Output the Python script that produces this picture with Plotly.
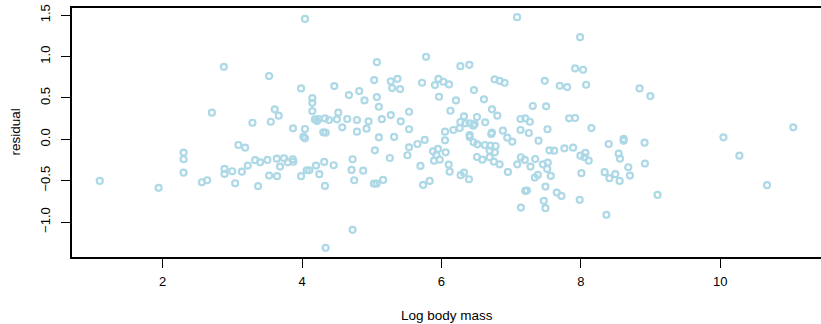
import plotly.graph_objects as go

# Log body mass (x) and model residual (y) for each species
log_body_mass = [
    1.098, 1.943, 2.879, 2.707, 3.528, 3.986, 4.043, 4.148, 4.148, 4.148,
    3.609, 3.666, 3.289, 3.552, 3.871, 4.043, 4.019, 4.043, 4.185, 4.215,
    4.240, 3.088, 3.184, 2.301, 2.301, 2.301, 3.222, 3.327, 3.399, 3.504,
    3.638, 3.742, 3.685, 3.795, 3.867, 3.876, 2.888, 2.888, 2.998, 3.137,
    2.564, 2.640, 3.041, 3.370, 3.528, 3.642, 3.986, 4.067, 4.105, 4.201,
    4.248,
    4.463, 4.673, 4.821, 4.897, 5.035, 5.074, 5.074, 5.103, 4.329, 4.387,
    4.520, 4.501, 4.649, 4.788, 4.955, 4.577, 4.788, 4.926, 5.145, 4.305,
    4.339, 5.103, 5.045, 4.319, 4.329, 4.454, 4.726, 4.711, 4.878, 4.749,
    5.031, 5.069, 4.726, 4.339,
    7.085, 5.780, 6.272, 6.401, 5.274, 5.370, 5.293, 5.407, 5.722, 5.908,
    5.957, 6.028, 6.109, 5.966, 6.467, 6.209, 6.610, 6.763, 6.835, 6.906,
    5.536, 5.274, 5.417, 5.536, 6.129, 6.725, 6.802, 6.324, 6.272, 6.510,
    6.477, 6.405, 6.344, 6.628, 6.458, 6.052, 6.172, 6.262, 6.405, 6.725,
    6.882, 5.321, 5.260, 5.513, 5.536, 5.656, 5.761, 6.052, 6.405, 6.462,
    6.515, 6.624, 6.715, 6.945, 7.017, 6.701, 6.777, 6.691, 6.767, 6.510,
    6.587, 6.691, 6.753, 6.835, 6.954, 7.088, 5.880, 5.951, 5.928, 6.062,
    5.894, 5.975, 5.699, 6.105, 6.119, 6.276, 6.324, 6.395, 5.737, 5.832,
    5.164, 7.140,
    7.990, 7.918, 8.033, 7.483, 7.698, 7.804, 8.076, 8.843, 8.997, 7.311,
    7.503, 7.135, 7.203, 7.269, 7.833, 7.918, 7.135, 7.254, 7.522, 8.152,
    7.393, 7.550, 7.618, 7.765, 7.890, 8.066, 7.994, 8.052, 8.113, 8.400,
    8.614, 8.614, 8.915, 8.543, 8.563, 8.681, 8.705, 8.920, 8.342, 8.410,
    8.495, 8.557, 9.101, 8.367, 8.009, 7.984, 7.140, 7.197, 7.346, 7.278,
    7.455, 7.526, 7.518, 7.569, 7.383, 7.340, 7.493, 7.203, 7.226, 7.655,
    7.722, 7.469, 7.493, 10.046, 10.275, 10.672, 11.048,
]

residual = [
    -0.503, -0.587, 0.876, 0.321, 0.764, 0.615, 1.455, 0.498, 0.441, 0.341,
    0.362, 0.285, 0.200, 0.212, 0.133, 0.124, 0.031, 0.012, 0.240, 0.220,
    0.245, -0.069, -0.101, -0.161, -0.241, -0.403, -0.318, -0.253, -0.278, -0.250,
    -0.234, -0.229, -0.330, -0.278, -0.241, -0.270, -0.358, -0.419, -0.386, -0.391,
    -0.519, -0.495, -0.531, -0.567, -0.439, -0.446, -0.446, -0.374, -0.374, -0.318,
    -0.422,
    0.643, 0.534, 0.583, 0.470, 0.715, 0.932, 0.510, 0.393, 0.253, 0.233,
    0.321, 0.241, 0.245, 0.233, 0.217, 0.145, 0.092, 0.128, 0.243, 0.085,
    0.080, 0.024, -0.133, -0.274, -0.563, -0.314, -0.241, -0.370, -0.379, -0.495,
    -0.536, -0.536, -1.094, -1.311,
    1.475, 0.996, 0.884, 0.900, 0.700, 0.731, 0.619, 0.607, 0.683, 0.655,
    0.731, 0.695, 0.663, 0.514, 0.595, 0.470, 0.483, 0.724, 0.707, 0.683,
    0.333, 0.293, 0.217, 0.121, 0.345, 0.362, 0.285, 0.277, 0.209, 0.269,
    0.185, 0.193, 0.193, 0.205, 0.164, 0.092, 0.112, 0.136, 0.052, 0.080,
    0.104, 0.028, -0.226, -0.193, -0.097, -0.057, -0.008, -0.012, 0.028, -0.036,
    -0.061, -0.069, 0.064, 0.020, -0.029, -0.077, -0.081, -0.137, -0.157, -0.214,
    -0.246, -0.217, -0.270, -0.302, -0.394, -0.302, -0.145, -0.117, -0.189, -0.157,
    -0.258, -0.246, -0.322, -0.306, -0.391, -0.434, -0.403, -0.483, -0.551, -0.503,
    -0.491, -0.825,
    1.234, 0.856, 0.840, 0.707, 0.647, 0.631, 0.659, 0.615, 0.522, 0.402,
    0.398, 0.245, 0.253, 0.212, 0.253, 0.257, 0.112, 0.076, 0.121, 0.136,
    -0.017, -0.133, -0.138, -0.109, -0.101, -0.165, -0.198, -0.217, -0.258, -0.057,
    0.004, -0.017, -0.041, -0.174, -0.234, -0.338, -0.439, -0.294, -0.398, -0.470,
    -0.422, -0.503, -0.672, -0.913, -0.410, -0.732, -0.217, -0.250, -0.238, -0.330,
    -0.302, -0.282, -0.358, -0.443, -0.431, -0.463, -0.572, -0.624, -0.620, -0.644,
    -0.684, -0.744, -0.832, 0.024, -0.198, -0.555, 0.145,
]

x_ticks = [2, 4, 6, 8, 10]
y_ticks = [-1.0, -0.5, 0.0, 0.5, 1.0, 1.5]
y_tick_text = ["\u22121.0", "\u22120.5", "0.0", "0.5", "1.0", "1.5"]

# axis limits padded by 4% of the data range on each side
def padded(vals, frac=0.04):
    lo, hi = min(vals), max(vals)
    pad = (hi - lo) * frac
    return [lo - pad, hi + pad]

FONT = "Liberation Sans, Arial, Helvetica, sans-serif"
POINT_COLOR = "#ADD8E6"

fig = go.Figure(
    go.Scatter(
        x=log_body_mass,
        y=residual,
        mode="markers",
        marker=dict(
            symbol="circle-open",
            size=6,
            color=POINT_COLOR,
            line=dict(width=2.2, color=POINT_COLOR),
        ),
        hoverinfo="x+y",
    )
)

fig.update_layout(
    width=821,
    height=324,
    margin=dict(l=72, r=0, t=8, b=67),
    paper_bgcolor="white",
    plot_bgcolor="white",
    showlegend=False,
    font=dict(family=FONT, size=13, color="black"),
    annotations=[
        dict(
            text="Log body mass",
            xref="paper", yref="paper",
            x=0.5, y=0,
            xanchor="center", yanchor="middle",
            yshift=-58,
            showarrow=False,
            font=dict(family=FONT, size=13.5, color="black"),
        ),
        dict(
            text="residual",
            xref="paper", yref="paper",
            x=0, y=0.5,
            xanchor="center", yanchor="middle",
            xshift=-57,
            textangle=-90,
            showarrow=False,
            font=dict(family=FONT, size=13.5, color="black"),
        ),
    ],
)

fig.update_xaxes(
    range=padded(log_body_mass),
    tickvals=x_ticks,
    ticktext=[str(v) for v in x_ticks],
    ticks="outside",
    ticklen=9,
    tickwidth=1,
    tickcolor="black",
    ticklabelstandoff=3,
    showline=True,
    linecolor="black",
    linewidth=1.5,
    mirror=True,
    showgrid=False,
    zeroline=False,
    tickfont=dict(family=FONT, size=13, color="black"),
)

fig.update_yaxes(
    range=padded(residual),
    tickvals=y_ticks,
    ticktext=y_tick_text,
    tickangle=-90,
    ticks="outside",
    ticklen=9,
    tickwidth=1,
    tickcolor="black",
    ticklabelstandoff=6,
    showline=True,
    linecolor="black",
    linewidth=1.5,
    mirror=False,
    showgrid=False,
    zeroline=False,
    tickfont=dict(family=FONT, size=13, color="black"),
)

fig.write_html("out.html")
